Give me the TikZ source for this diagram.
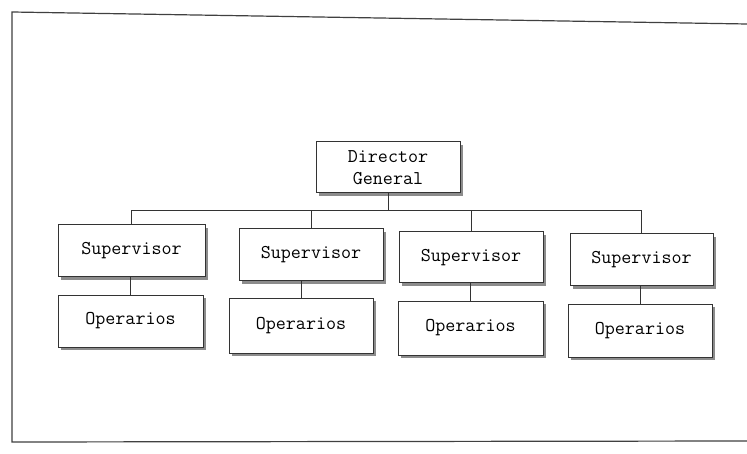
\documentclass[tikz,border=0pt]{standalone}
\usetikzlibrary{shadows}
\begin{document}
\begin{tikzpicture}[x=1pt,y=1pt,
  box/.style={draw=black!80, line width=1pt, fill=white,
    minimum width=144pt, minimum height=52pt, inner sep=0pt,
    align=center, font=\ttfamily\fontsize{19.5}{22}\selectfont,
    drop shadow={shadow xshift=3pt, shadow yshift=-3pt, fill=black!45, opacity=1}},
  link/.style={draw=black!80, line width=0.9pt}]
  \useasboundingbox (0,0) rectangle (747,453);
  \fill[white] (0,0) rectangle (747,453);
  % outer frame
  \draw[black!75, line width=1.2pt] (747,429) -- (12,441) -- (12,11) -- (747,12);

  % boxes
  \node[box, minimum height=51pt] (dir) at (388,285.5) {Director\\General};
  \node[box, minimum width=147pt] (s1) at (131.5,202) {Supervisor};
  \node[box, minimum width=145pt] (o1) at (130.5,132) {Operarios};
  \node[box] (s2) at (311,198) {Supervisor};
  \node[box, minimum height=55pt] (o2) at (301,127.5) {Operarios};
  \node[box, minimum height=51pt] (s3) at (471,195.5) {Supervisor};
  \node[box, minimum width=145pt, minimum height=54pt] (o3) at (470.5,125) {Operarios};
  \node[box, minimum width=143pt] (s4) at (641.5,193) {Supervisor};
  \node[box, minimum height=53pt] (o4) at (640,122.5) {Operarios};

  % connectors
  \coordinate (bar) at (0,243);
  \draw[link] (dir.south) -- (dir.south |- bar);
  \draw[link] (s1.north) -- (s1.north |- bar) -- (s4.north |- bar) -- (s4.north);
  \draw[link] (s2.north) -- (s2.north |- bar);
  \draw[link] (s3.north) -- (s3.north |- bar);
  \draw[link] (o1.north) -- (o1.north |- s1.south);
  \draw[link] (o2.north) -- (o2.north |- s2.south);
  \draw[link] (o3.north) -- (o3.north |- s3.south);
  \draw[link] (o4.north) -- (o4.north |- s4.south);
\end{tikzpicture}
\end{document}
